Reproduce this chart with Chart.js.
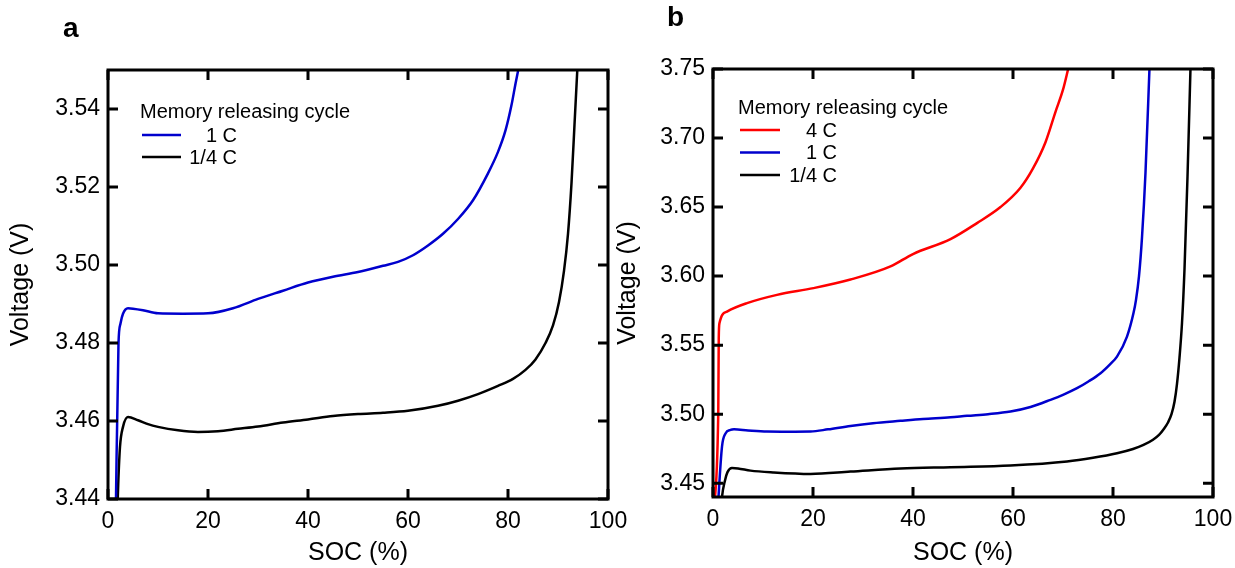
<!DOCTYPE html>
<html>
<head>
<meta charset="utf-8">
<script src="https://cdn.jsdelivr.net/npm/chart.js@4.4.1/dist/chart.umd.min.js"></script>
<style>
  html, body { margin: 0; padding: 0; background: #fff; }
  #wrap { position: relative; width: 1235px; height: 568px; overflow: hidden; }
  canvas { position: absolute; top: 0; }
  .tag { position: absolute; font: bold 28px 'Liberation Sans', Arial, sans-serif; line-height: 28px; color: #000; }
</style>
</head>
<body>
<div id="wrap">
  <canvas id="chartA" width="640" height="568" style="left:0"></canvas>
  <canvas id="chartB" width="628" height="568" style="left:607px"></canvas>
  <div class="tag" style="left:63px;top:14px">a</div>
  <div class="tag" style="left:667px;top:3px">b</div>
</div>
<script>
'use strict';

// ---- data: panel a ----
const socTicks = [0, 20, 40, 60, 80, 100];
const voltTicksA = [3.44, 3.46, 3.48, 3.50, 3.52, 3.54];

const socA_1C = [1.5, 1.6, 2.1, 2.5, 3, 4, 5, 7, 10, 15, 20, 25, 30, 35, 40, 45, 50, 55, 58, 61, 64, 67, 70, 73, 76, 78, 79.5, 80.7, 81.5, 82.2];
const voltA_1C = [3.43, 3.44, 3.48, 3.485, 3.4875, 3.4889, 3.4888, 3.4884, 3.4876, 3.4875, 3.4876, 3.4889, 3.4913, 3.4934, 3.4955, 3.497, 3.4982, 3.4998, 3.5008, 3.5025, 3.505, 3.508, 3.5118, 3.5166, 3.5235, 3.529, 3.5345, 3.541, 3.5465, 3.551];

const socA_q = [1.7, 2.05, 2.4, 3.0, 4, 6, 8, 10, 14, 18, 22, 26, 30, 35, 40, 45, 50, 55, 60, 66, 70, 74, 78, 81, 83.5, 85.5, 87.5, 89, 90.2, 91.2, 92, 92.7, 93.3, 93.9];
const voltA_q = [3.43, 3.444, 3.4534, 3.4585, 3.461, 3.4602, 3.4592, 3.4585, 3.4576, 3.4572, 3.4574, 3.458, 3.4586, 3.4596, 3.4604, 3.4613, 3.4618, 3.4621, 3.4626, 3.4639, 3.4652, 3.4669, 3.469, 3.4708, 3.4731, 3.4758, 3.48, 3.4845, 3.4905, 3.4985, 3.508, 3.521, 3.536, 3.551];

// ---- data: panel b ----
const voltTicksB = [3.45, 3.50, 3.55, 3.60, 3.65, 3.70, 3.75];

const socB_4C = [0.05, 1.05, 1.15, 1.3, 2.8, 6.8, 12.8, 20.1, 27.5, 35.5, 40, 47.5, 52.8, 57.5, 61.5, 64, 66.5, 68.5, 70, 71.1];
const voltB_4C = [3.43, 3.50, 3.555, 3.566, 3.5743, 3.5804, 3.5864, 3.5913, 3.5975, 3.607, 3.616, 3.6268, 3.6384, 3.65, 3.664, 3.678, 3.697, 3.719, 3.735, 3.751];

const socB_1C = [0.95, 1.1, 1.8, 2.5, 3.5, 4.2, 7, 10.8, 15, 19.5, 23, 27.5, 32, 37.5, 42, 47.5, 50.8, 55, 59.5, 63.5, 67.5, 70, 72.8, 75, 77.5, 79.5, 80.8, 82.8, 84.1, 84.6, 85.2, 85.8, 86.5, 87.3];
const voltB_1C = [3.43, 3.44, 3.4765, 3.486, 3.4886, 3.489, 3.4882, 3.4874, 3.4873, 3.4874, 3.489, 3.4915, 3.4935, 3.4952, 3.4965, 3.4977, 3.4988, 3.5, 3.5019, 3.5052, 3.5104, 3.514, 3.5188, 3.5235, 3.5297, 3.5365, 3.5417, 3.5562, 3.5732, 3.5828, 3.60, 3.628, 3.675, 3.751];

const socB_q = [1.6, 1.8, 2.4, 2.9, 3.8, 5, 7.5, 12, 19.5, 27.5, 37.5, 47.5, 59.5, 70.8, 76, 80.8, 84, 86.1, 88, 89.2, 90.2, 91, 91.7, 92.3, 92.8, 93.3, 93.8, 94.3, 94.9, 95.5];
const voltB_q = [3.43, 3.44, 3.452, 3.458, 3.461, 3.4607, 3.4591, 3.4578, 3.4567, 3.4584, 3.4606, 3.4616, 3.4628, 3.4657, 3.4684, 3.4717, 3.4748, 3.4777, 3.4815, 3.485, 3.4895, 3.494, 3.5, 3.509, 3.522, 3.541, 3.566, 3.605, 3.672, 3.751];

const FONT = "'Liberation Sans', Arial, sans-serif";
const RED = '#ff0000';
const BLUE = '#0000cd';
const BLACK = '#000000';

// Box frame with inward ticks on all four sides
const framePlugin = {
  id: 'frame',
  afterDatasetsDraw(chart) {
    const { ctx, chartArea: a, scales: { x, y } } = chart;
    const len = 10;
    ctx.save();
    ctx.strokeStyle = '#000';
    ctx.lineWidth = 3;
    ctx.beginPath();
    x.ticks.forEach(t => {
      const px = x.getPixelForValue(t.value);
      ctx.moveTo(px, a.bottom); ctx.lineTo(px, a.bottom - len);
      ctx.moveTo(px, a.top); ctx.lineTo(px, a.top + len);
    });
    y.ticks.forEach(t => {
      const py = y.getPixelForValue(t.value);
      ctx.moveTo(a.left, py); ctx.lineTo(a.left + len, py);
      ctx.moveTo(a.right, py); ctx.lineTo(a.right - len, py);
    });
    ctx.stroke();
    ctx.strokeRect(a.left, a.top, a.right - a.left, a.bottom - a.top);
    ctx.restore();
  }
};

// Legend drawn inside the plot area
const memLegendPlugin = {
  id: 'memLegend',
  afterDraw(chart, args, opts) {
    const { ctx, chartArea: a } = chart;
    ctx.save();
    ctx.font = '20px ' + FONT;
    ctx.fillStyle = '#000';
    ctx.textBaseline = 'middle';
    ctx.textAlign = 'left';
    ctx.fillText('Memory releasing cycle', a.left + opts.titleX, a.top + opts.titleY);
    chart.data.datasets.forEach((ds, i) => {
      const yy = a.top + opts.rowY + i * opts.rowGap;
      ctx.strokeStyle = ds.borderColor;
      ctx.lineWidth = 2.5;
      ctx.beginPath();
      ctx.moveTo(a.left + opts.lineX0, yy);
      ctx.lineTo(a.left + opts.lineX1, yy);
      ctx.stroke();
      ctx.textAlign = 'right';
      ctx.fillStyle = '#000';
      ctx.fillText(ds.label, a.left + opts.textRight, yy + 1);
    });
    ctx.restore();
  }
};

function series(label, xs, ys, color) {
  return {
    label,
    data: xs.map((x, i) => ({ x, y: ys[i] })),
    borderColor: color,
    borderWidth: 2.5,
    pointRadius: 0,
    fill: false,
    cubicInterpolationMode: 'monotone',
    clip: 0
  };
}

function makeChart(id, cfg) {
  return new Chart(document.getElementById(id), {
    type: 'line',
    data: { datasets: cfg.datasets },
    options: {
      responsive: false,
      animation: false,
      layout: { padding: { left: 0, top: cfg.padTop, right: cfg.padRight, bottom: 0 } },
      plugins: {
        legend: { display: false },
        tooltip: { enabled: false },
        memLegend: cfg.legend
      },
      scales: {
        x: {
          type: 'linear',
          min: 0,
          max: 100,
          afterBuildTicks: s => { s.ticks = socTicks.map(v => ({ value: v })); },
          afterFit: s => { s.height = cfg.xHeight; s.paddingLeft = 0; s.paddingRight = 0; },
          grid: { display: false, drawTicks: false },
          border: { display: false },
          ticks: { autoSkip: false, maxRotation: 0, padding: 9, color: '#000', font: { family: FONT, size: 23 } },
          title: { display: true, text: 'SOC (%)', color: '#000', font: { family: FONT, size: 25 }, padding: { top: 0, bottom: 0 } }
        },
        y: {
          type: 'linear',
          min: cfg.yMin,
          max: cfg.yMax,
          afterBuildTicks: s => { s.ticks = cfg.yTicks.map(v => ({ value: v })); },
          afterFit: s => { s.width = cfg.yWidth; s.paddingTop = 0; s.paddingBottom = 0; },
          grid: { display: false, drawTicks: false },
          border: { display: false },
          ticks: { autoSkip: false, padding: 8, color: '#000', font: { family: FONT, size: 23 }, callback: v => v.toFixed(2) },
          title: { display: true, text: 'Voltage (V)', color: '#000', font: { family: FONT, size: 25 }, padding: { top: 6, bottom: 0 } }
        }
      }
    },
    plugins: [framePlugin, memLegendPlugin]
  });
}

makeChart('chartA', {
  datasets: [
    series('1 C', socA_1C, voltA_1C, BLUE),
    series('1/4 C', socA_q, voltA_q, BLACK)
  ],
  yMin: 3.44, yMax: 3.55, yTicks: voltTicksA,
  padTop: 70, padRight: 32, xHeight: 69, yWidth: 108,
  legend: { titleX: 32, titleY: 42, rowY: 65, rowGap: 22, lineX0: 34, lineX1: 73, textRight: 129 }
});

makeChart('chartB', {
  datasets: [
    series('4 C', socB_4C, voltB_4C, RED),
    series('1 C', socB_1C, voltB_1C, BLUE),
    series('1/4 C', socB_q, voltB_q, BLACK)
  ],
  yMin: 3.44, yMax: 3.75, yTicks: voltTicksB,
  padTop: 69, padRight: 22, xHeight: 71, yWidth: 106,
  legend: { titleX: 25, titleY: 39, rowY: 61, rowGap: 22.5, lineX0: 27, lineX1: 67, textRight: 124 }
});
</script>
</body>
</html>
